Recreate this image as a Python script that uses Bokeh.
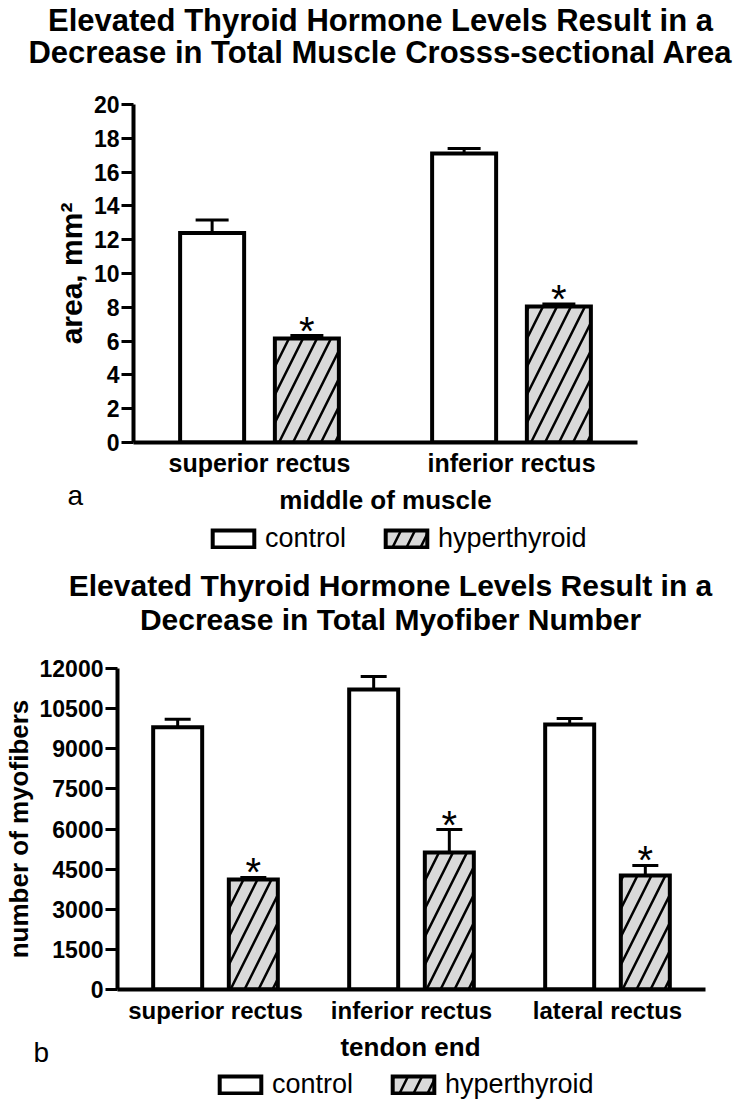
from bokeh.plotting import figure
from bokeh.models import (FactorRange, Range1d, ColumnDataSource, FixedTicker,
                          Label, Legend, LegendItem)
from bokeh.transform import dodge
from bokeh.layouts import column
from bokeh.embed import file_html
from bokeh.resources import INLINE
from bokeh.core.properties import value

FONT = "Liberation Sans"
WIDTH = 746

# ---------------- data: panel a (middle of muscle) ----------------
a_categories = ["superior rectus", "inferior rectus"]
a_control = [12.4, 17.1]
a_control_sem = [0.77, 0.3]
a_hyper = [6.15, 8.05]
a_hyper_sem = [0.18, 0.15]
a_yticks = [0, 2, 4, 6, 8, 10, 12, 14, 16, 18, 20]
a_title = ["Elevated Thyroid Hormone Levels Result in a",
           "Decrease in Total Muscle Crosss-sectional Area"]
a_ylabel = "area, mm\u00b2"
a_xlabel = "middle of muscle"

# ---------------- data: panel b (tendon end) ----------------
b_categories = ["superior rectus", "inferior rectus", "lateral rectus"]
b_control = [9800, 11215, 9907]
b_control_sem = [300, 490, 225]
b_hyper = [4112, 5121, 4262]
b_hyper_sem = [75, 860, 375]
b_yticks = [0, 1500, 3000, 4500, 6000, 7500, 9000, 10500, 12000]
b_title = ["Elevated Thyroid Hormone Levels Result in a",
           "Decrease in Total Myofiber Number"]
b_ylabel = "number of myofibers"
b_xlabel = "tendon end"

series_names = ["control", "hyperthyroid"]

CTRL_STYLE = dict(fill_color="white", line_color="black", line_width=4, line_join="miter")
HYP_STYLE = dict(fill_color="#d9d9d9", line_color="black", line_width=4, line_join="miter",
                 hatch_pattern="/", hatch_scale=28, hatch_weight=2.5, hatch_color="black")


def blank(h):
    """A text-only strip whose data space equals its pixel space (y downwards)."""
    p = figure(width=WIDTH, height=h, x_range=Range1d(0, WIDTH), y_range=Range1d(h, 0),
               x_axis_type=None, y_axis_type=None, output_backend="svg",
               toolbar_location=None, min_border=0, frame_align=False)
    p.outline_line_color = None
    p.grid.visible = False
    return p


def header(lines, h, cx, bases, fs):
    p = blank(h)
    for line, b in zip(lines, bases):
        p.add_layout(Label(x=cx, y=b, text=line, text_align="center",
                           text_baseline="alphabetic", text_font=FONT,
                           text_font_style="bold", text_font_size=fs, text_color="black"))
    return p


def footer(h, letter, letter_pos, xlabel, xlabel_pos, legend_pos):
    p = blank(h)
    p.add_layout(Label(x=letter_pos[0], y=letter_pos[1], text=letter, text_align="left",
                       text_baseline="alphabetic", text_font=FONT, text_font_size="28px",
                       text_color="black"))
    p.add_layout(Label(x=xlabel_pos[0], y=xlabel_pos[1], text=xlabel, text_align="center",
                       text_baseline="alphabetic", text_font=FONT, text_font_style="bold",
                       text_font_size="26px", text_color="black"))
    # legend proxies: hidden renderers that only supply the legend swatches
    proxy = ColumnDataSource(dict(x=[-5000], top=[-5000], bottom=[-5001]))
    r_c = p.vbar(x="x", top="top", bottom="bottom", width=1, source=proxy,
                 visible=False, **CTRL_STYLE)
    r_h = p.vbar(x="x", top="top", bottom="bottom", width=1, source=proxy,
                 visible=False, **HYP_STYLE)
    legend = Legend(items=[LegendItem(label=series_names[0], renderers=[r_c]),
                           LegendItem(label=series_names[1], renderers=[r_h])],
                    location=legend_pos, orientation="horizontal", glyph_width=52,
                    glyph_height=21, label_standoff=6, spacing=34, padding=0, margin=0,
                    border_line_alpha=0, background_fill_alpha=0, label_text_font=FONT,
                    label_text_font_size="27px", label_height=21, label_text_color="black",
                    inactive_fill_alpha=0)
    p.add_layout(legend)
    return p


def chart(cats, ctrl, ctrl_sem, hyp, hyp_sem, yticks, ylabel, g):
    L, R, T, B = g["frame"]
    H = g["H"]
    p = figure(width=WIDTH, height=H, x_range=FactorRange(factors=cats, range_padding=0),
               y_range=Range1d(0, yticks[-1]), output_backend="svg", toolbar_location=None,
               title=None, min_border_left=L, min_border_right=WIDTH - R,
               min_border_top=T, min_border_bottom=H - B, frame_align=False)
    p.outline_line_color = None
    p.grid.visible = False
    p.background_fill_color = "white"
    p.border_fill_color = "white"

    src_c = ColumnDataSource(dict(cat=cats, val=ctrl,
                                  hi=[v + e for v, e in zip(ctrl, ctrl_sem)]))
    src_h = ColumnDataSource(dict(cat=cats, val=hyp,
                                  hi=[v + e for v, e in zip(hyp, hyp_sem)]))
    off, bw = g["off"], g["bw"]
    xc = dodge("cat", -off, range=p.x_range)
    xh = dodge("cat", off, range=p.x_range)

    p.vbar(x=xc, top="val", width=bw, source=src_c, **CTRL_STYLE)
    p.vbar(x=xh, top="val", width=bw, source=src_h, **HYP_STYLE)

    for x, src in ((xc, src_c), (xh, src_h)):
        p.segment(x0=x, y0="val", x1=x, y1="hi", source=src, line_color="black", line_width=3)
        p.scatter(x=x, y="hi", source=src, marker="dash", size=g["cap"],
                  line_color="black", line_width=3)

    p.text(x=xh, y="hi", source=src_h, text=value("*"), text_font=value(FONT),
           text_font_size=value("40px"), text_align="center", text_baseline="middle",
           y_offset=-5, text_color="black")

    p.xaxis.axis_line_width = 4
    p.xaxis.axis_line_color = "black"
    p.xaxis.major_tick_line_color = None
    p.xaxis.major_tick_out = 0
    p.xaxis.major_tick_in = 0
    p.xaxis.major_label_standoff = g["xstand"]
    p.xaxis.major_label_text_font = FONT
    p.xaxis.major_label_text_font_style = "bold"
    p.xaxis.major_label_text_font_size = g["catfs"]
    p.xaxis.major_label_text_color = "black"

    p.yaxis.ticker = FixedTicker(ticks=yticks)
    p.yaxis.axis_line_width = 4
    p.yaxis.axis_line_color = "black"
    p.yaxis.major_tick_out = 12
    p.yaxis.major_tick_in = 0
    p.yaxis.major_tick_line_width = 3
    p.yaxis.major_tick_line_color = "black"
    p.yaxis.minor_tick_line_color = None
    p.yaxis.major_label_standoff = 2
    p.yaxis.major_label_text_font = FONT
    p.yaxis.major_label_text_font_style = "bold"
    p.yaxis.major_label_text_font_size = "23px"
    p.yaxis.major_label_text_color = "black"
    p.yaxis.axis_label = ylabel
    p.yaxis.axis_label_standoff = g["ylstand"]
    p.yaxis.axis_label_text_font = FONT
    p.yaxis.axis_label_text_font_style = "bold"
    p.yaxis.axis_label_text_font_size = g["ylabfs"]
    p.yaxis.axis_label_text_color = "black"
    return p


# page strips: header a 0-88, chart a 88-480, footer a 480-566,
#              header b 566-650, chart b 650-1028, footer b 1028-1100
ga = dict(H=392, frame=(133, 637, 16, 354), off=0.188, bw=0.254, cap=33,
          xstand=6, catfs="25px", ylabfs="30px", ylstand=3)
gb = dict(H=378, frame=(115, 705, 18, 339), off=0.193, bw=0.25, cap=26,
          xstand=7, catfs="24px", ylabfs="26px", ylstand=3)

head_a = header(a_title, 88, 380, (20, 52), "31px")
chart_a = chart(a_categories, a_control, a_control_sem, a_hyper, a_hyper_sem, a_yticks,
                a_ylabel, ga)
foot_a = footer(86, "a", (67, 15), a_xlabel, (385, 19), (207, 12))

head_b = header(b_title, 84, 390, (19, 53), "30px")
chart_b = chart(b_categories, b_control, b_control_sem, b_hyper, b_hyper_sem, b_yticks,
                b_ylabel, gb)
foot_b = footer(72, "b", (33, 24), b_xlabel, (410, 18), (214, 0))

layout = column(head_a, chart_a, foot_a, head_b, chart_b, foot_b, spacing=0)
open("out.html", "w").write(file_html(layout, INLINE))
